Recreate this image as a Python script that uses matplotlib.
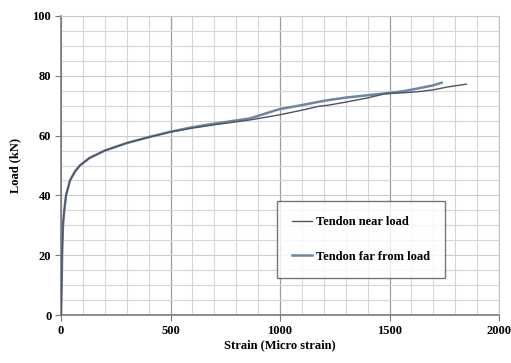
import numpy as np
import matplotlib.pyplot as plt
from matplotlib.ticker import MultipleLocator

# strain (micro strain) vs load (kN) for the two tendon gauges
near_strain = [0, 3, 5, 9, 15, 23, 41, 64, 86, 130, 200, 300, 400, 500, 600, 700, 860, 995,
               1100, 1177, 1223, 1300, 1400, 1480, 1560, 1632, 1700, 1760, 1851]
near_load = [0, 10, 20, 30, 35, 40, 45, 48, 50, 52.5, 55, 57.5, 59.4, 61.2, 62.5, 63.6, 65.2, 66.9,
             68.5, 69.8, 70.2, 71.2, 72.6, 74.0, 74.3, 74.7, 75.3, 76.2, 77.2]
far_strain = [0, 3, 5, 9, 15, 23, 41, 64, 86, 130, 200, 300, 400, 500, 600, 700, 860, 930, 995,
              1100, 1177, 1223, 1300, 1400, 1480, 1560, 1632, 1700, 1738]
far_load = [0, 10, 20, 30, 35, 40, 45, 48, 50, 52.5, 55, 57.5, 59.5, 61.3, 62.8, 64.0, 65.7, 67.3, 68.8,
            70.2, 71.3, 71.9, 72.7, 73.5, 74.1, 74.8, 75.8, 76.8, 77.7]

plt.rcParams['font.family'] = ['Liberation Serif', 'DejaVu Serif']
plt.rcParams['font.weight'] = 'bold'

fig = plt.figure(figsize=(5.11, 3.63), dpi=100)
ax = fig.add_axes([61/511, 1 - 315/363, 438/511, 299/363])

ax.plot(near_strain, near_load, color='#4e5360', lw=1.0, label='Tendon near load', zorder=3)
ax.plot(far_strain, far_load, color='#6b87a3', lw=1.8, label='Tendon far from load', zorder=2)

ax.set_xlim(0, 2000)
ax.set_ylim(0, 100)
ax.xaxis.set_major_locator(MultipleLocator(500))
ax.xaxis.set_minor_locator(MultipleLocator(100))
ax.yaxis.set_major_locator(MultipleLocator(20))
ax.yaxis.set_minor_locator(MultipleLocator(5))

ax.grid(which='minor', color='#d6d6d6', lw=0.8)
ax.grid(which='major', axis='y', color='#cccccc', lw=0.8)
ax.grid(which='major', axis='x', color='#9c9c9c', lw=0.9)
ax.set_axisbelow(True)

for side in ['top', 'right']:
    ax.spines[side].set_color('#c8c8c8')
for side in ['left', 'bottom']:
    ax.spines[side].set_color('#7a7a7a')
    ax.spines[side].set_linewidth(1.2)

ax.tick_params(which='major', direction='out', length=4, color='#7a7a7a', labelsize=9, pad=3)
ax.tick_params(which='minor', length=0)

ax.set_xlabel('Strain (Micro strain)', fontsize=9, fontweight='bold', labelpad=2)
ax.set_ylabel('Load (kN)', fontsize=9, fontweight='bold', labelpad=8)

leg = ax.legend(loc='upper left', bbox_to_anchor=((277 - 61) / 438, (315 - 201) / 299),
                fontsize=9, frameon=True, fancybox=False, edgecolor='#555555',
                handlelength=1.6, handletextpad=0.3, labelspacing=1.8,
                borderpad=1.2, borderaxespad=0)
leg.get_frame().set_linewidth(1.0)

fig.savefig('out.png', dpi=100)
